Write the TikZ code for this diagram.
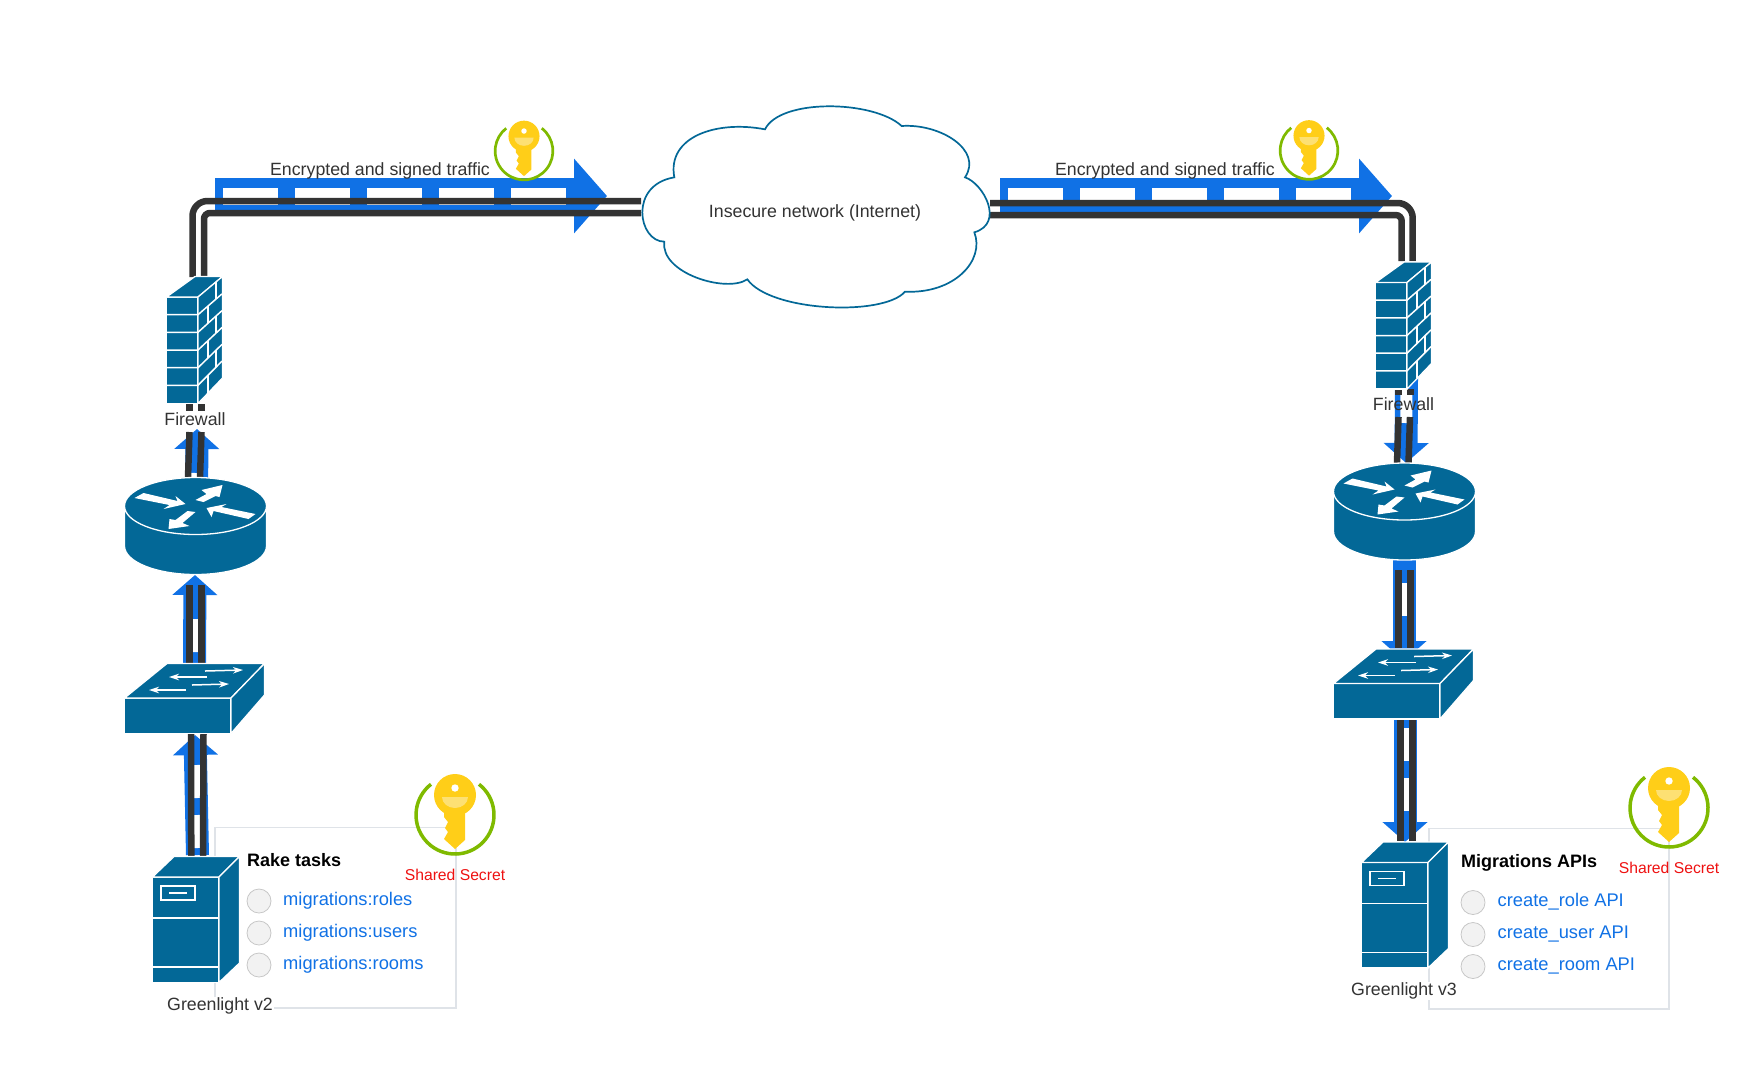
\documentclass[tikz,border=0pt]{standalone}
\usepackage{fontspec}
\setmainfont{Liberation Sans}
\usetikzlibrary{arrows.meta}

\definecolor{flowblue}{HTML}{1071E5}
\definecolor{iconblue}{HTML}{036897}
\definecolor{pipegrey}{HTML}{333333}
\definecolor{textgrey}{HTML}{333333}
\definecolor{boxgrey}{HTML}{DFE3E8}
\definecolor{keygold}{HTML}{FFCE18}
\definecolor{keylight}{HTML}{FDE073}
\definecolor{keygreen}{HTML}{7FBA00}
\definecolor{secretred}{HTML}{EE1111}

\begin{document}
\begin{tikzpicture}[x=1pt, y=-1pt]
	\tikzset{icon/.style={fill=iconblue, draw=white, line width=1.3pt, line join=round},
	iconline/.style={draw=white, line width=1.5pt},
	etiquette/.style={inner sep=0pt, text=textgrey, font=\fontsize{17.75}{20}\selectfont},
	titre/.style={inner sep=0pt, anchor=west, text=black, font=\fontsize{18}{20}\selectfont\bfseries},
	tache/.style={inner sep=0pt, anchor=west, text=flowblue, font=\fontsize{18.3}{20}\selectfont},
	secret/.style={inner sep=0pt, text=secretred, font=\fontsize{15.7}{18}\selectfont},
	puce/.style={circle, draw=black!22, fill=black!5, line width=0.8pt, minimum size=24pt, inner sep=0pt},
	panneau/.style={draw=boxgrey, line width=1.4pt},
	tuyau/.style={draw=pipegrey, line width=6.5pt},
	flux/.style={draw=flowblue, line width=23pt, -{Triangle[length=20pt, width=44pt]}},
	fluxtirets/.style={draw=white, line width=12pt, dash pattern=on 33pt off 17pt},
	fluxlarge/.style={draw=flowblue, line width=37pt, -{Triangle[length=33pt, width=73pt]}},
	larges/.style={draw=white, line width=17pt, dash pattern=on 55pt off 17pt},
	firewallicon/.pic={
		\path[icon] (-0.5,0) rectangle (31,106.5);
		\path[icon] (-0.5,0) -- (28,-20.5) -- (55.5,-20.5) -- (31,0) -- cycle;
		\path[icon] (31,0) -- (55.5,-20.5) -- (55.5,81) -- (31,106.5) -- cycle;
		\foreach \y in {17.7,35.3,53,70.7,88.3}{
			\draw[iconline] (0,\y) -- (31,\y) -- (55,{-20+\y*0.953});
		}
		\foreach \x/\ya/\yb in {49/-15/2.1, 41/8.9/26.2, 49/19.1/36.1, 41/43.5/60.9, 49/53.2/70.2, 41/78.1/95.5}{
			\draw[iconline] (\x,\ya) -- (\x,\yb);
		}
	},
	routericon/.pic={
		\path[icon] (-71,0) -- (-71,40) arc[start angle=180, end angle=0, x radius=71, y radius=28.5] -- (71,0) -- cycle;
		\path[icon] (0,0) ellipse[x radius=71, y radius=28.5];
		\fill[white] (-61,-8) -- (-52,-13) -- (-18,-5) -- (-20,-10) -- (-10,-2) -- (-32,3) -- (-26,-1) -- cycle;
		\fill[white] (27,-21) -- (6,-16) -- (11,-12) -- (0,-6) -- (8,-4) -- (20,-10) -- (24,-9) -- cycle;
		\fill[white] (60,8) -- (53,13) -- (18,5) -- (16,11) -- (11,2) -- (31,-2) -- (26,1) -- cycle;
		\fill[white] (-27,23) -- (-6,20) -- (-13,17) -- (0,6) -- (-8,5) -- (-20,14) -- (-26,13) -- cycle;
	},
	switchicon/.pic={
		\path[icon] (-0.5,0) rectangle (106,35.5);
		\path[icon] (-0.5,0) -- (42,-34.5) -- (139.5,-34.5) -- (106,0) -- cycle;
		\path[icon] (106,0) -- (139.5,-34.5) -- (139.5,-3) -- (106,35.5) -- cycle;
		\foreach \xa/\ya/\xb/\yb in {80/-27/118/-28, 82/-21/44/-21, 67/-13/104/-14, 61/-8/24/-8}{
			\draw[draw=white, line width=1.5pt, -{Stealth[length=10pt, width=6.5pt]}] (\xa,\ya) -- (\xb,\yb);
		}
	},
	servericon/.pic={
		\path[icon] (-0.5,0) rectangle (66,105.5);
		\path[icon] (-0.5,0) -- (21,-20.5) -- (86.5,-20.5) -- (66,0) -- cycle;
		\path[icon] (66,0) -- (86.5,-20.5) -- (86.5,86) -- (66,105.5) -- cycle;
		\draw[iconline] (0,41) -- (66,41);
		\draw[iconline] (0,90) -- (66,90);
		\draw[iconline] (8,9) rectangle (42,23);
		\draw[iconline] (16,16) -- (34,16);
	},
	keyicon/.pic={
		\draw[keygreen, line width=#1] (-52:39) arc[start angle=-52, end angle=232, radius=39];
		\fill[keygold] (-11,-10) -- (-11,2) -- (-7,7) -- (-10,13) -- (-7,17) -- (-11,24) -- (0,34) -- (10,25) -- (10,-10) -- cycle;
		\fill[keygold] (0,-20) circle[radius=21];
		\fill[white] (0,-27) circle[radius=3.7];
		\fill[keylight] (-13,-18) -- (13,-18) arc[start angle=0, end angle=180, x radius=13, y radius=11] -- cycle;
	}};

	\useasboundingbox (0,0) rectangle (1758,1077);

	% panels
	\draw[panneau] (215,827.5) rectangle (456,1008);
	\draw[panneau] (1429,828.5) rectangle (1669,1009);

	% traffic arrows
	\foreach \name/\tx/\ty/\hx/\hy in {hautG/215/196/607/196, hautD/1000/196/1392/196}{
		\coordinate (\name-q) at (\tx,\ty);
		\coordinate (\name-t) at (\hx,\hy);
		\draw[fluxlarge] (\name-q) -- (\name-t);
		\draw[larges, shorten <=8pt, shorten >=41pt] (\name-q) -- (\name-t);
	}
	\foreach \name/\tx/\ty/\hx/\hy/\sa/\sb in {
		fluxA/196.5/506/197/429/0/44, fluxB/194.5/663/195/575/11/44, fluxC/197.5/855/195/735/7/29,
		fluxD/1406.5/378/1406/463/12/38, fluxE/1404/560/1404/661/23/44, fluxF/1405/718/1405/842/10/30}{
		\coordinate (\name-q) at (\tx,\ty);
		\coordinate (\name-t) at (\hx,\hy);
		\draw[flux] (\name-q) -- (\name-t);
		\draw[fluxtirets, shorten <=\sa pt, shorten >=\sb pt] (\name-q) -- (\name-t);
	}

	% cables
	\foreach \name/\x/\y in {fwGa/192.5/277, fwGb/204/277, nuageGa/641/201, nuageGb/641/213,
		fwDa/1412.7/261, fwDb/1401.7/261, nuageDa/990/203, nuageDb/990/215}{
		\coordinate (\name) at (\x,\y);
	}
	\draw[tuyau, rounded corners=15pt] (fwGa) |- (nuageGa);
	\draw[tuyau, rounded corners=6pt] (fwGb) |- (nuageGb);
	\draw[tuyau, rounded corners=15pt] (nuageDa) -| (fwDa);
	\draw[tuyau, rounded corners=6pt] (nuageDb) -| (fwDb);
	\foreach \name/\xa/\ya/\xb/\yb in {
		c1/189.7/404/189.7/411, c2/201.3/404/201.3/411,
		c3/189.5/432/188/478, c4/201.5/432/200/478,
		c5/189.5/585/189.5/663, c6/201.5/585/201.5/663,
		c7/191/734/191.3/856, c8/203.5/734/203/856,
		c9/1398.5/389/1398.5/395, c10/1410.5/389/1410.5/395,
		c11/1398.5/417/1397/463, c12/1410/417/1408.5/463,
		c13/1398.5/570/1398.5/648, c14/1410.5/570/1410.5/648,
		c15/1400.5/719/1400.5/841, c16/1412.5/719/1412.5/841}{
		\coordinate (\name-a) at (\xa,\ya);
		\coordinate (\name-b) at (\xb,\yb);
		\draw[tuyau] (\name-a) -- (\name-b);
	}

	% equipment
	\foreach \x/\dx/\dy in {0/0/0, 1/1209/-14.5}{
		\begin{scope}[shift={(\dx,\dy)}]
			\pic at (167,297) {firewallicon};
			\pic at (195.5,506) {routericon};
			\pic at (125,698) {switchicon};
			\pic at (153,877) {servericon};
		\end{scope}
	}

	% cloud
	\begin{scope}[shift={(630,90)}, scale=0.33333]
		\draw[draw=iconblue, fill=white, line width=1.7pt] (405,118)
			.. controls (450,25) and (730,30) .. (815,108)
			.. controls (930,100) and (1060,180) .. (1005,262)
			.. controls (1060,280) and (1125,400) .. (1033,427)
			.. controls (1065,510) and (975,612) .. (825,605)
			.. controls (760,680) and (420,665) .. (352,568)
			.. controls (290,610) and (90,550) .. (103,455)
			.. controls (25,455) and (-5,285) .. (133,262)
			.. controls (110,140) and (260,90) .. (405,118) -- cycle;
	\end{scope}
	\node[etiquette] (nuage) at (815,213) {Insecure network (Internet)};

	% labels
	\node[etiquette] (traficG) at (380,171) {Encrypted and signed traffic};
	\node[etiquette] (traficD) at (1165,171) {Encrypted and signed traffic};
	\node[etiquette] (firewallG) at (195,419) {Firewall};
	\node[etiquette] (firewallD) at (1403.5,404) {Firewall};
	\node[etiquette, fill=white, inner sep=1pt] (serveurG) at (220,1006) {Greenlight v2};
	\node[etiquette, fill=white, inner sep=1pt] (serveurD) at (1404,991) {Greenlight v3};

	% keys
	\pic[scale=0.74] at (524,151) {keyicon=2.7pt};
	\pic[scale=0.74] at (1309,150.5) {keyicon=2.7pt};
	\pic at (455,815) {keyicon=3.5pt};
	\pic at (1669,808) {keyicon=3.5pt};
	\node[secret] (secretG) at (455,875) {Shared Secret};
	\node[secret] (secretD) at (1669,868) {Shared Secret};

	% task lists
	\node[titre] (rake) at (247,860.5) {Rake tasks};
	\node[titre] (apis) at (1461,862.5) {Migrations APIs};
	\foreach \i/\y/\tache in {1/0/migrations:roles, 2/32/migrations:users, 3/64/migrations:rooms}{
		\node[puce] (puceG\i) at (259,901+\y) {};
		\node[tache] (tacheG\i) at (283,901+\y) {\tache};
	}
	\foreach \i/\y/\tache in {1/0/create\_role API, 2/32/create\_user API, 3/64/create\_room API}{
		\node[puce] (puceD\i) at (1473,902.5+\y) {};
		\node[tache] (tacheD\i) at (1497.5,902+\y) {\tache};
	}
\end{tikzpicture}
\end{document}
